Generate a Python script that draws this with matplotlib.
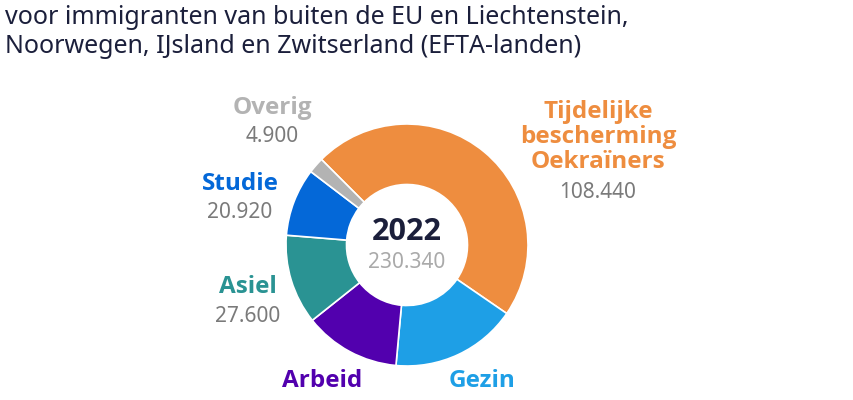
import matplotlib
matplotlib.use('Agg')
import matplotlib.pyplot as plt

plt.rcParams['font.family'] = ['Noto Sans', 'DejaVu Sans']
BOLD = ['Open Sans', 'DejaVu Sans']

# data (clockwise, starting with the orange slice)
categories = ['Tijdelijke\nbescherming\nOekraïners', 'Gezin', 'Arbeid', 'Asiel', 'Studie', 'Overig']
values = [108440, 38880, 29600, 27600, 20920, 4900]
value_labels = ['108.440', '', '', '27.600', '20.920', '4.900']
colors = ['#EE8D3F', '#1E9FE6', '#5200AE', '#2A9393', '#0468D8', '#B3B3B3']
year = '2022'
total_label = '230.340'
title_lines = 'voor immigranten van buiten de EU en Liechtenstein,\nNoorwegen, IJsland en Zwitserland (EFTA-landen)'

W, H = 854, 400
fig = plt.figure(figsize=(W / 100, H / 100), dpi=100)

# donut geometry in pixels
cx, cy, r = 407, 245, 121
ax = fig.add_axes([(cx - r) / W, (H - cy - r) / H, 2 * r / W, 2 * r / H])
ax.pie(values, colors=colors, startangle=135, counterclock=False, radius=1,
       wedgeprops=dict(width=0.5, edgecolor='white', linewidth=1.2))
ax.set_xlim(-1, 1)
ax.set_ylim(-1, 1)
ax.set_aspect('equal')
ax.axis('off')

def px(x, y):
    return (x - cx) / r, (cy - y) / r

# centre text
ax.text(*px(407, 232), year, ha='center', va='center', fontsize=22,
        fontweight='bold', family=BOLD, color='#1B1F3B')
ax.text(*px(407, 262), total_label, ha='center', va='center', fontsize=15,
        color='#AAAAAA')

# label centres in pixels
label_pos = [(598, 137), (482, 381), (322, 381), (248, 287), (240, 184), (272, 108)]
for i, cat in enumerate(categories):
    x, y = label_pos[i]
    ax.text(*px(x, y), cat, ha='center', va='center', fontsize=17.5,
            fontweight='bold', family=BOLD, color=colors[i], linespacing=1.03,
            clip_on=False)
    if value_labels[i]:
        nlines = cat.count('\n') + 1
        vy = y + 55 if nlines > 1 else y + 29
        ax.text(*px(x, vy), value_labels[i], ha='center', va='center', fontsize=15,
                color='#7A7A7A', clip_on=False)

fig.text(5 / W, 1 - 32 / H, title_lines, ha='left', va='center', fontsize=18,
         color='#1B1F3B', linespacing=1.25)

fig.savefig('out.png', dpi=100, facecolor='white')
